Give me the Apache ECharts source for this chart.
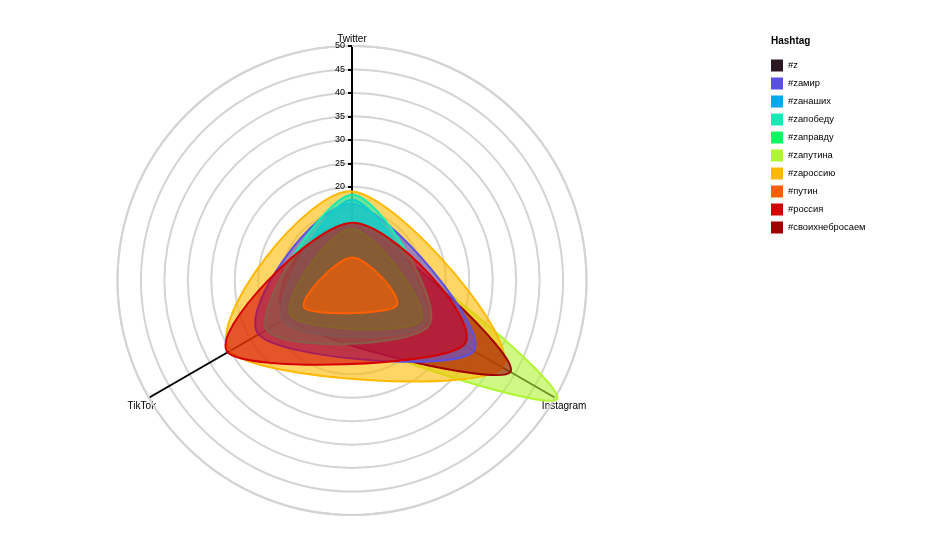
<!DOCTYPE html>
<html><head><meta charset="utf-8">
<script src="https://cdn.jsdelivr.net/npm/echarts@6/dist/echarts.min.js"></script>
<style>html,body{margin:0;padding:0;background:#fff}#c{width:944px;height:542px}</style>
</head><body><div id="c"></div>
<script>
// ---- data ----
const platforms = ['Twitter', 'Instagram', 'TikTok'];
const platformAngle = [0, 120, 240];            // angle-axis value of each platform
const hashtags = ['#z', '#zамир', '#zанаших', '#zапобеду', '#zаправду', '#zапутина', '#zароссию', '#путин', '#россия', '#своихнебросаем'];
const twitter   = [3.2, 16.3, 17.2, 18.3, 11.0, 11.0, 19.0, 4.9, 12.3, 11.8];
const instagram = [1.6, 30.0, 18.0, 19.0, 17.0, 50.5, 37.0, 10.9, 27.5, 39.0];
const tiktok    = [1.0, 23.0, 17.0, 21.0, 15.0, 14.0, 30.0, 11.7, 30.6, 16.0];
const radiusMin = 0, radiusMax = 50, radiusStep = 5;
// drawing order (bottom -> top), indices into hashtags
const drawOrder = [0, 5, 6, 9, 1, 2, 3, 4, 8, 7];

// ---- style ----
const colors = ['#2a1721', '#5b50e6', '#00aaee', '#14ebb4', '#0afa64', '#aff532', '#ffb900', '#ff5f00', '#d50000', '#a00000'];
const FONT = 'Liberation Sans, Arial, Helvetica, sans-serif';

function renderFor(idx) {
  return function (params, api) {
    if (params.dataIndex !== 0) return null;
    const vals = [twitter[idx], instagram[idx], tiktok[idx]];
    const p = vals.map((v, i) => api.coord([v, platformAngle[i]]));
    const n = p.length;
    let d = 'M' + p[0][0] + ',' + p[0][1];
    for (let i = 0; i < n; i++) {
      const p0 = p[(i - 1 + n) % n], p1 = p[i], p2 = p[(i + 1) % n], p3 = p[(i + 2) % n];
      const c1 = [p1[0] + (p2[0] - p0[0]) / 6, p1[1] + (p2[1] - p0[1]) / 6];
      const c2 = [p2[0] - (p3[0] - p1[0]) / 6, p2[1] - (p3[1] - p1[1]) / 6];
      d += ' C' + c1[0] + ',' + c1[1] + ' ' + c2[0] + ',' + c2[1] + ' ' + p2[0] + ',' + p2[1];
    }
    d += ' Z';
    return {
      type: 'path',
      shape: { pathData: d },
      style: { fill: echarts.color.modifyAlpha(colors[idx], 0.6), stroke: colors[idx], lineWidth: 2 }
    };
  };
}

const series = hashtags.map((h, idx) => ({
  type: 'custom',
  name: h,
  coordinateSystem: 'polar',
  z: 2,
  itemStyle: { color: colors[idx] },
  data: [[twitter[idx], platformAngle[0]], [instagram[idx], platformAngle[1]], [tiktok[idx], platformAngle[2]]],
  renderItem: renderFor(idx),
  silent: true
}));
drawOrder.forEach((idx, k) => { series[idx].z = 2 + k * 0.01; });

const chart = echarts.init(document.getElementById('c'), null, { renderer: 'canvas' });
chart.setOption({
  animation: false,
  color: colors,
  textStyle: { fontFamily: FONT },
  title: {
    text: 'Hashtag', left: 771, top: 36, padding: 0,
    textStyle: { fontSize: 10, fontWeight: 'bold', color: '#000', fontFamily: FONT }
  },
  legend: {
    orient: 'vertical', left: 771, top: 59.5, padding: 0,
    itemWidth: 12, itemHeight: 12, itemGap: 6, icon: 'rect',
    textStyle: { fontSize: 9.4, color: '#000', fontFamily: FONT },
    data: hashtags
  },
  polar: { center: [352, 280.5], radius: 234.5 },
  radiusAxis: {
    min: radiusMin, max: radiusMax, interval: radiusStep,
    axisLine: { show: true, lineStyle: { color: '#000', width: 2 } },
    axisTick: { show: true, length: 4, lineStyle: { color: '#000', width: 2 } },
    axisLabel: { fontSize: 9, color: '#000', margin: 7, fontFamily: FONT },
    splitLine: { show: true, lineStyle: { color: '#d4d4d4', width: 2 } }
  },
  angleAxis: {
    type: 'value', min: 0, max: 360, interval: 120, startAngle: 90, clockwise: true,
    axisLine: { show: true, lineStyle: { color: '#d4d4d4', width: 2 } },
    axisTick: { show: false },
    splitLine: { show: true, lineStyle: { color: '#000', width: 2 } },
    axisLabel: {
      margin: -17, fontSize: 10, color: '#000', fontFamily: FONT,
      formatter: function (v) {
        const i = platformAngle.indexOf(v);
        return i < 0 ? '' : '{p' + i + '|' + platforms[i] + '}';
      },
      rich: {
        p0: { fontSize: 10, color: '#000', padding: [0, 0, 19, 0] },
        p1: { fontSize: 10, color: '#000', padding: [12, 0, 0, 1.5] },
        p2: { fontSize: 10, color: '#000', padding: [12, 7.5, 0, 0] }
      }
    }
  },
  series: series
});
</script>
</body></html>
